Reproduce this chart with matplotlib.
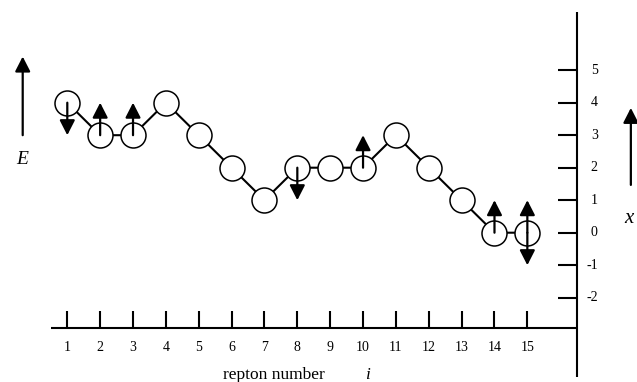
# Repton chain: position x of each repton along the tube, with spin arrows

import numpy as np
import matplotlib.pyplot as plt

plt.rcParams['font.family'] = ['Liberation Serif', 'DejaVu Serif']

# Repton numbers and their positions
repton = np.arange(1, 16)
position = [4, 3, 3, 4, 3, 2, 1, 2, 2, 2, 3, 2, 1, 0, 0]

# Reptons carrying an up or a down arrow
arrow_up = [2, 3, 10, 14, 15]
arrow_down = [1, 8, 15]

# Labels on the right hand axis
x_ticks = np.arange(-2, 6)

fig = plt.figure(figsize=(6.37, 3.82), dpi=100)
ax = fig.add_axes([0, 0, 1, 1])
ax.set_xlim(-1.048, 18.337)
ax.set_ylim(-4.594, 7.160)
ax.axis('off')

black = 'black'

# Bottom axis with a tick above each repton
base = -2.92
right = 16.50
ax.plot([0.495, right], [base, base], color=black, lw=1.5, solid_capstyle='butt')
ax.vlines(repton, base, -2.40, color=black, lw=1.5)
for r in repton:
    ax.text(r, -3.53, str(r), ha='center', va='center', fontsize=10)
ax.text(7.3, -4.37, 'repton number', ha='center', va='center', fontsize=12.5)
ax.text(10.12, -4.37, 'i', ha='center', va='center', fontsize=12.5,
        style='italic')

# Right hand axis for the position
ax.plot([right, right], [-4.44, 6.79], color=black, lw=1.5, solid_capstyle='butt')
ax.hlines(x_ticks, 15.93, right, color=black, lw=1.5)
for t in x_ticks:
    ax.text(17.14, t, '{:d}'.format(t), ha='right', va='center', fontsize=10)

# The chain of reptons
ax.plot(repton, position, color=black, lw=1.5, marker='o', markersize=18,
        markerfacecolor='white', markeredgecolor=black, markeredgewidth=1.1,
        zorder=3)

# Spin arrows drawn over the circles
def arrow(x0, y0, x1, y1):
    ax.annotate('', xy=(x1, y1), xytext=(x0, y0),
                arrowprops=dict(arrowstyle='-|>,head_length=0.45,head_width=0.23',
                                mutation_scale=20, color=black, lw=1.6,
                                shrinkA=0, shrinkB=0),
                zorder=4)

for r in arrow_up:
    arrow(r, position[r-1], r, position[r-1] + 1.0)
for r in arrow_down:
    arrow(r, position[r-1], r, position[r-1] - 1.0)

# Energy arrow on the left, position arrow on the right
arrow(-0.357, 3.0, -0.357, 5.42)
ax.text(-0.37, 2.24, 'E', ha='center', va='center', fontsize=14, style='italic')
arrow(18.15, 1.47, 18.15, 3.84)
ax.text(18.1, 0.45, 'x', ha='center', va='center', fontsize=15, style='italic')

fig.savefig('out.png', dpi=100)
